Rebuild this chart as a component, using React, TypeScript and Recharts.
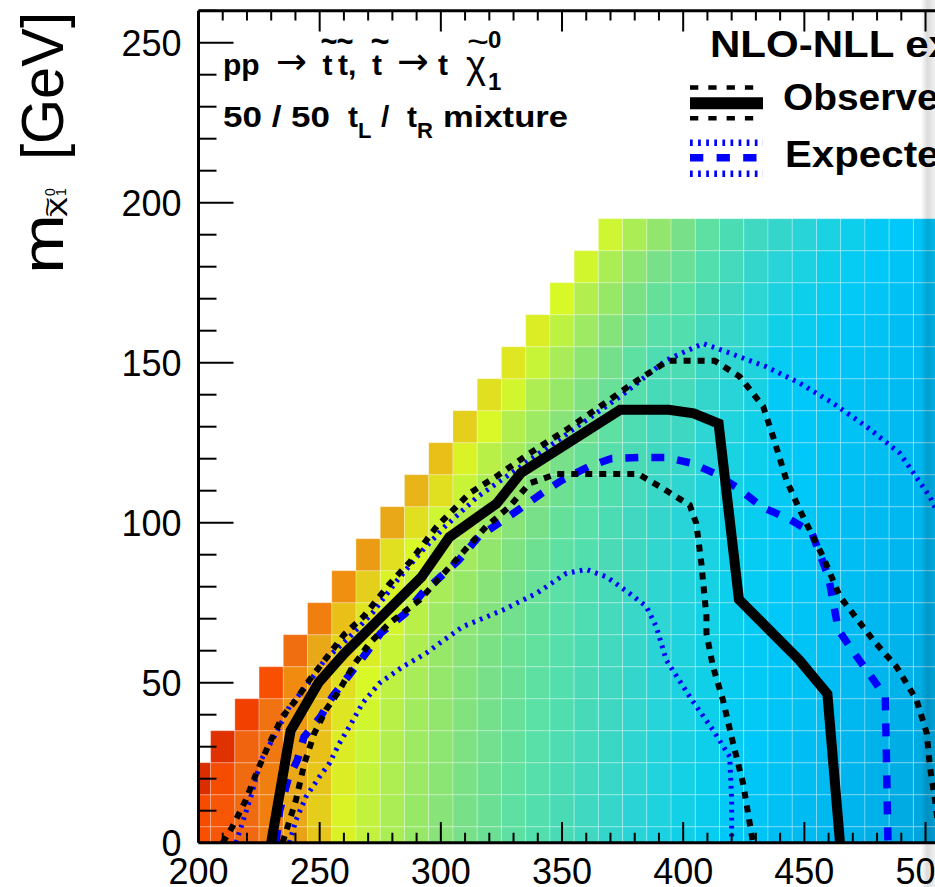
import React from 'react';
import { ComposedChart, Line, ReferenceArea, XAxis, YAxis } from 'recharts';

const FONT = '"Liberation Sans", Arial, Helvetica, sans-serif';

// axis ticks (GeV)
const xTicks = [200, 210, 220, 230, 240, 250, 260, 270, 280, 290, 300, 310, 320, 330, 340, 350, 360, 370, 380, 390, 400, 410, 420, 430, 440, 450, 460, 470, 480, 490, 500, 510, 520];
const yTicks = [0, 10, 20, 30, 40, 50, 60, 70, 80, 90, 100, 110, 120, 130, 140, 150, 160, 170, 180, 190, 200, 210, 220, 230, 240, 250, 260];

// heat map: bin centres and colour level per bin (column by column, bottom row first)
const cellX = [200, 210, 220, 230, 240, 250, 260, 270, 280, 290, 300, 310, 320, 330, 340, 350, 360, 370, 380, 390, 400, 410, 420, 430, 440, 450, 460, 470, 480, 490, 500, 510];
const cellY = [0, 10, 20, 30, 40, 50, 60, 70, 80, 90, 100, 110, 120, 130, 140, 150, 160, 170, 180, 190];
const cellLevels = [
  [2, 1.8, 0.3],
  [2.3, 2.3, 1.8, 0.5],
  [3.2, 3.3, 3.3, 3, 1.2],
  [4.2, 4.3, 4.3, 4, 3.7, 2],
  [5.8, 6, 6, 5.7, 5.3, 4.8, 3.5],
  [7.2, 7.4, 7.2, 7, 6.8, 6.5, 6, 4.3],
  [8.7, 8.8, 8.6, 8.5, 8.2, 8, 7.6, 7, 5],
  [9.7, 9.7, 9.6, 9.4, 9.2, 9, 8.6, 8.2, 7.5, 5.5],
  [10.4, 10.4, 10.3, 10.2, 10, 9.8, 9.5, 9.2, 8.8, 8, 6],
  [11, 11, 10.9, 10.8, 10.7, 10.5, 10.3, 10, 9.6, 9, 8, 6.5],
  [11.5, 11.5, 11.4, 11.3, 11.2, 11.1, 11, 10.8, 10.5, 10, 9.3, 8, 7],
  [12, 12, 11.9, 11.8, 11.7, 11.6, 11.5, 11.3, 11, 10.7, 10.2, 9.5, 8.8, 7.5],
  [12.4, 12.4, 12.3, 12.2, 12.1, 12, 11.9, 11.7, 11.5, 11.2, 10.8, 10.4, 10, 9, 8],
  [12.8, 12.8, 12.7, 12.6, 12.5, 12.4, 12.3, 12.2, 12, 11.8, 11.5, 11.1, 10.6, 10.2, 9.2, 8.3],
  [13.2, 13.2, 13.1, 13, 12.9, 12.8, 12.7, 12.6, 12.5, 12.3, 12, 11.7, 11.3, 10.8, 10.3, 9.5, 8.6],
  [13.6, 13.6, 13.5, 13.4, 13.3, 13.2, 13.1, 13, 12.9, 12.8, 12.6, 12.3, 12, 11.5, 11, 10.5, 9.8, 9],
  [14, 14, 13.9, 13.8, 13.7, 13.6, 13.5, 13.4, 13.3, 13.2, 13, 12.8, 12.5, 12.2, 11.8, 11.3, 10.8, 10.2, 9.2],
  [14.5, 14.4, 14.3, 14.2, 14.1, 14, 13.9, 13.8, 13.7, 13.6, 13.5, 13.3, 13.1, 12.8, 12.5, 12.1, 11.6, 11, 10.4, 9.3],
  [15, 14.9, 14.8, 14.7, 14.6, 14.5, 14.4, 14.3, 14.2, 14.1, 14, 13.8, 13.6, 13.4, 13.1, 12.8, 12.4, 11.9, 11.3, 10.4],
  [15.5, 15.4, 15.3, 15.2, 15.1, 15, 14.9, 14.8, 14.7, 14.6, 14.5, 14.3, 14.1, 13.9, 13.7, 13.4, 13, 12.6, 12, 11.2],
  [16, 15.9, 15.8, 15.7, 15.6, 15.5, 15.4, 15.3, 15.2, 15.1, 15, 14.7, 14.4, 14.1, 13.8, 13.5, 13.2, 12.9, 12.5, 12],
  [16.5, 16.4, 16.3, 16.2, 16.1, 16, 15.9, 15.8, 15.7, 15.6, 15.5, 15.3, 15.1, 14.8, 14.5, 14.2, 13.9, 13.6, 13.2, 12.8],
  [17, 16.9, 16.8, 16.7, 16.6, 16.5, 16.4, 16.3, 16.2, 16.1, 16, 15.8, 15.6, 15.3, 15, 14.7, 14.4, 14.1, 13.8, 13.5],
  [17.3, 17.2, 17.1, 17, 16.9, 16.8, 16.8, 16.7, 16.6, 16.6, 16.5, 16.4, 16.2, 16, 15.7, 15.4, 15.1, 14.8, 14.5, 14],
  [17.6, 17.5, 17.4, 17.3, 17.2, 17.1, 17.1, 17, 17, 16.9, 16.9, 16.8, 16.8, 16.8, 16.9, 16.6, 16, 15.5, 15, 14.5],
  [17.8, 17.8, 17.7, 17.6, 17.5, 17.4, 17.3, 17.3, 17.2, 17.2, 17.1, 17, 17, 17, 17, 16.8, 16.5, 16.1, 15.6, 15],
  [18, 18, 17.9, 17.8, 17.7, 17.6, 17.5, 17.5, 17.4, 17.4, 17.3, 17.3, 17.2, 17.2, 17.2, 17, 16.8, 16.5, 16.1, 15.6],
  [18.3, 18.2, 18.2, 18.1, 18, 17.9, 17.8, 17.8, 17.7, 17.6, 17.6, 17.5, 17.5, 17.4, 17.4, 17.3, 17.1, 16.9, 16.6, 16.2],
  [18.6, 18.5, 18.5, 18.4, 18.3, 18.2, 18.1, 18, 18, 17.9, 17.8, 17.8, 17.7, 17.7, 17.6, 17.5, 17.4, 17.2, 17, 16.8],
  [18.9, 18.8, 18.7, 18.6, 18.5, 18.4, 18.3, 18.2, 18.2, 18.1, 18, 18, 17.9, 17.9, 17.8, 17.7, 17.6, 17.5, 17.3, 17],
  [19.2, 19.1, 19, 18.9, 18.8, 18.7, 18.6, 18.5, 18.4, 18.3, 18.2, 18.2, 18.1, 18, 18, 17.9, 17.8, 17.7, 17.5, 17.3],
  [19.4, 19.3, 19.2, 19.1, 19, 18.9, 18.8, 18.7, 18.6, 18.5, 18.4, 18.4, 18.3, 18.2, 18.2, 18.1, 18, 17.9, 17.7, 17.5],
];

// exclusion contours (m_stop, m_LSP)
const observed = [
  { x: 230, y: 0 }, { x: 238, y: 35 }, { x: 249.5, y: 50 }, { x: 260, y: 59 }, { x: 276, y: 71 },
  { x: 292, y: 83 }, { x: 303.5, y: 95.5 }, { x: 323, y: 106 }, { x: 333, y: 115.5 }, { x: 374, y: 135.3 },
  { x: 394, y: 135.3 }, { x: 404.3, y: 134.2 }, { x: 414.6, y: 131 }, { x: 423, y: 76 }, { x: 448, y: 57 },
  { x: 459.5, y: 46.5 }, { x: 464.7, y: 0 },
];
const observedUp = [
  { x: 210, y: 0 }, { x: 214, y: 5 }, { x: 219.5, y: 13.3 }, { x: 224.4, y: 22.7 }, { x: 229.2, y: 31 },
  { x: 234.7, y: 39.4 }, { x: 240.2, y: 44.6 }, { x: 245.7, y: 50.8 }, { x: 253, y: 58 }, { x: 260, y: 65 },
  { x: 268, y: 70.6 }, { x: 279, y: 81 }, { x: 287.3, y: 87.8 }, { x: 298.3, y: 98.8 }, { x: 311.8, y: 109.2 },
  { x: 322.8, y: 114.4 }, { x: 336.6, y: 121.7 }, { x: 351.7, y: 129 }, { x: 365.5, y: 136.2 }, { x: 379.3, y: 143.6 },
  { x: 393.7, y: 150.6 }, { x: 413, y: 150.6 }, { x: 423.4, y: 145.6 }, { x: 433, y: 136.3 }, { x: 437.1, y: 126.9 },
  { x: 442.6, y: 113.3 }, { x: 448.1, y: 104 }, { x: 453.6, y: 95.6 }, { x: 457.7, y: 89.4 }, { x: 464.6, y: 77 },
  { x: 478.4, y: 63.3 }, { x: 488, y: 55 }, { x: 496.3, y: 44.6 }, { x: 500.5, y: 34.2 }, { x: 501.8, y: 23.8 },
  { x: 504, y: 13 }, { x: 506, y: 0 },
];
const observedDown = [
  { x: 234.7, y: 0 }, { x: 240.2, y: 13.3 }, { x: 243.7, y: 24.8 }, { x: 247.8, y: 34.2 }, { x: 252.6, y: 41.5 },
  { x: 257.4, y: 46.7 }, { x: 263.6, y: 55 }, { x: 270.5, y: 62.3 }, { x: 278.8, y: 68.6 }, { x: 291.2, y: 75.8 },
  { x: 305, y: 87.3 }, { x: 318.7, y: 98.8 }, { x: 328.3, y: 105 }, { x: 336.6, y: 112.3 }, { x: 347.6, y: 115.2 },
  { x: 381.5, y: 115.2 }, { x: 390.3, y: 111.3 }, { x: 402.7, y: 105.5 }, { x: 405.4, y: 99.8 }, { x: 407.5, y: 87.3 },
  { x: 409.6, y: 70.6 }, { x: 409.6, y: 65.4 }, { x: 412.3, y: 55 }, { x: 416.4, y: 44.6 }, { x: 420.6, y: 31 },
  { x: 424.7, y: 18.6 }, { x: 428.8, y: 0 },
];
const expected = [
  { x: 232, y: 0 }, { x: 233.5, y: 10 }, { x: 237, y: 20 }, { x: 240.8, y: 25.8 }, { x: 243.5, y: 33 },
  { x: 250.4, y: 39.4 }, { x: 255.2, y: 45.6 }, { x: 262.8, y: 53 }, { x: 269.6, y: 59.7 }, { x: 275.1, y: 65.4 },
  { x: 285.4, y: 71.7 }, { x: 292.3, y: 77.9 }, { x: 307.4, y: 88.3 }, { x: 315.6, y: 95.6 }, { x: 332, y: 104 },
  { x: 341.7, y: 109.2 }, { x: 350, y: 113.3 }, { x: 360.9, y: 117.5 }, { x: 370.5, y: 120.1 }, { x: 381.5, y: 120.4 },
  { x: 393.2, y: 120.4 }, { x: 403.5, y: 118.6 }, { x: 413.1, y: 115.4 }, { x: 422.7, y: 110.7 }, { x: 432.3, y: 105 },
  { x: 444, y: 101 }, { x: 453, y: 97 }, { x: 460, y: 83 }, { x: 464, y: 66.5 }, { x: 470.8, y: 59 },
  { x: 477.6, y: 51.9 }, { x: 483.4, y: 45.6 }, { x: 484.5, y: 0 },
];
const expectedUp = [
  { x: 215.5, y: 0 }, { x: 221.6, y: 14.4 }, { x: 225.8, y: 25.8 }, { x: 232, y: 34.2 }, { x: 237.5, y: 42.5 },
  { x: 244.4, y: 48.8 }, { x: 252, y: 57 }, { x: 262, y: 64 }, { x: 272, y: 72 }, { x: 282, y: 82 },
  { x: 292, y: 91 }, { x: 302, y: 99 }, { x: 315, y: 108 }, { x: 330, y: 116 }, { x: 345, y: 124 },
  { x: 360, y: 132 }, { x: 375, y: 140 }, { x: 393, y: 150.8 }, { x: 408.2, y: 156 }, { x: 417.8, y: 153.4 },
  { x: 434.4, y: 148.7 }, { x: 448.1, y: 143.6 }, { x: 461.9, y: 137.3 }, { x: 475.7, y: 130 }, { x: 489.4, y: 121.7 },
  { x: 501.8, y: 108.1 }, { x: 510, y: 95 },
];
const expectedDown = [
  { x: 237.5, y: 0 }, { x: 240.2, y: 7 }, { x: 244.4, y: 14.4 }, { x: 249.9, y: 20.6 }, { x: 254, y: 24.8 },
  { x: 258.1, y: 31 }, { x: 262.2, y: 36.2 }, { x: 267.7, y: 43.6 }, { x: 274.6, y: 49.8 }, { x: 284.3, y: 55 },
  { x: 293.9, y: 59.2 }, { x: 299.4, y: 62.3 }, { x: 309, y: 67.5 }, { x: 325.6, y: 72.7 }, { x: 339.4, y: 77.9 },
  { x: 351.8, y: 84.2 }, { x: 360, y: 85.4 }, { x: 368.3, y: 83.1 }, { x: 377.9, y: 77.9 }, { x: 384.8, y: 73.8 },
  { x: 388.9, y: 67.5 }, { x: 393, y: 57.1 }, { x: 402.7, y: 45.6 }, { x: 412.3, y: 35.2 }, { x: 419.2, y: 26.9 },
  { x: 420, y: 13.3 }, { x: 420, y: 0 },
];

const palette = [
  '#d02800', '#f03c00', '#f85000', '#f06410', '#f07810', '#f09010', '#e8a818', '#e8c018',
  '#e0e020', '#d8f828', '#b8f048', '#98e868', '#78e088', '#58e0a8', '#40d8c0', '#28d4d8',
  '#10d0e8', '#00c8f8', '#00b8f0', '#00a8e0', '#0098d8',
];

function hexRgb(h: string) {
  return [1, 3, 5].map((i) => parseInt(h.slice(i, i + 2), 16));
}

function levelColor(v: number) {
  const i = Math.max(0, Math.min(palette.length - 2, Math.floor(v)));
  const t = Math.max(0, Math.min(1, v - i));
  const a = hexRgb(palette[i]);
  const b = hexRgb(palette[i + 1]);
  const c = a.map((ch, k) => Math.round(ch + (b[k] - ch) * t));
  return `rgb(${c[0]},${c[1]},${c[2]})`;
}

const cells = cellLevels.flatMap((col, i) =>
  col.map((lv, j) => ({ x: cellX[i], y: cellY[j], lv }))
);

const BottomTick = (props: any) => {
  const { x, y, payload } = props;
  const v = payload.value;
  if (v % 50 !== 0) return <g />;
  return (
    <text x={x} y={y + 41} textAnchor="middle" fontSize={36} fontFamily={FONT} fill="#000">
      {v}
    </text>
  );
};

const LeftTick = (props: any) => {
  const { x, y, payload } = props;
  const v = payload.value;
  const major = v % 50 === 0;
  return (
    <g>
      <line x1={x} x2={x + (major ? 35 : 18)} y1={y} y2={y} stroke="#000" strokeWidth={2} />
      {major && (
        <text x={x - 17} y={y + 13} textAnchor="end" fontSize={36} fontFamily={FONT} fill="#000">
          {v}
        </text>
      )}
    </g>
  );
};

const lineBase = { type: 'linear' as const, dataKey: 'y', dot: false, isAnimationActive: false };
const chartSize = { width: 1000, height: 887, margin: { top: 9.7, right: 26, left: 0, bottom: 0 } };
const frame = { stroke: '#000', strokeWidth: 3 };

// the same axes twice: hidden under the heat map, drawn on top in the overlay chart
function axes(show: boolean) {
  const common = { tickLine: false, tickSize: 0, tickMargin: 0, interval: 0 as const, allowDataOverflow: true };
  return [
    <XAxis key="xb" {...common} type="number" dataKey="x" domain={[200, 520]} ticks={xTicks} height={44.3}
      axisLine={show ? frame : false} tick={show ? <BottomTick /> : false} />,
    <XAxis key="xt" {...common} xAxisId="top" orientation="top" type="number" dataKey="x" domain={[200, 520]}
      ticks={xTicks} height={1} axisLine={show ? frame : false} tick={false} />,
    <YAxis key="yl" {...common} type="number" domain={[0, 260]} ticks={yTicks} width={198.5}
      axisLine={show ? frame : false} tick={show ? <LeftTick /> : false} />,
  ];
}

// inward tick marks on the bottom and top frame (length in GeV of m_LSP), drawn as short series
const xTickMarks = xTicks.flatMap((v) => {
  const len = v % 50 === 0 ? 6.5 : 3.1;
  return [
    <Line key={`b${v}`} {...lineBase} data={[{ x: v, y: 0 }, { x: v, y: len }]} stroke="#000" strokeWidth={2} />,
    <Line key={`t${v}`} {...lineBase} data={[{ x: v, y: 260 }, { x: v, y: 260 - len }]} stroke="#000" strokeWidth={2} />,
  ];
});

export default function App() {
  return (
    <div style={{ position: 'fixed', left: 0, top: 0, width: 935, height: 887, overflow: 'hidden', background: '#fff' }}>
      <div style={{ position: 'absolute', left: 0, top: 0, zIndex: 1 }}>
        <ComposedChart {...chartSize}>
          {axes(false)}
          {cells.map((c) => (
            <ReferenceArea
              key={`${c.x}-${c.y}`}
              x1={Math.max(200, c.x - 5)}
              x2={c.x + 5}
              y1={Math.max(0, c.y - 5)}
              y2={c.y + 5}
              fill={levelColor(c.lv)}
              fillOpacity={1}
              stroke="rgba(255,255,255,0.28)"
              strokeWidth={1}
            />
          ))}
          <Line {...lineBase} data={expectedDown} stroke="#0000ff" strokeWidth={5} strokeDasharray="2.7 5.3" />
          <Line {...lineBase} data={expectedUp} stroke="#0000ff" strokeWidth={5} strokeDasharray="2.7 5.3" />
          <Line {...lineBase} data={expected} stroke="#0000ff" strokeWidth={7.5} strokeDasharray="13 13" />
          <Line {...lineBase} data={observedDown} stroke="#000" strokeWidth={6} strokeDasharray="7 7" />
          <Line {...lineBase} data={observedUp} stroke="#000" strokeWidth={6} strokeDasharray="7 7" />
          <Line {...lineBase} data={observed} stroke="#000" strokeWidth={10} />
        </ComposedChart>
      </div>

      <div style={{ position: 'absolute', left: 0, top: 0, zIndex: 2, pointerEvents: 'none' }}>
        <ComposedChart {...chartSize}>
          {axes(true)}
          {xTickMarks}
        </ComposedChart>
      </div>

      <svg width={935} height={887} style={{ position: 'absolute', left: 0, top: 0, zIndex: 3, pointerEvents: 'none' }} fontFamily={FONT}>
        {/* y axis title */}
        <g transform="translate(63,272) rotate(-90)">
          <text x={-2} y={0} fontSize={60} textLength={60} lengthAdjust="spacingAndGlyphs">m</text>
          <text x={55} y={-1.5} fontSize={22} textLength={20} lengthAdjust="spacingAndGlyphs">χ</text>
          <text x={55} y={-7} fontSize={24} textLength={20} lengthAdjust="spacingAndGlyphs">~</text>
          <text fontSize={14}>
            <tspan x={76} y={-8}>0</tspan>
            <tspan x={76} y={3}>1</tspan>
          </text>
          <text x={112} y={0} fontSize={60} textLength={148} lengthAdjust="spacingAndGlyphs">[GeV]</text>
        </g>

        {/* process label */}
        <g fontWeight="bold" fontSize={30}>
          <text x={223} y={75}>pp</text>
          <text x={276} y={74} fontWeight="normal" fontSize={37} fontFamily="DejaVu Sans">→</text>
          <text x={322.5} y={75}>t</text>
          <text x={338} y={75}>t,</text>
          <text x={372} y={75}>t</text>
          <text x={397} y={74} fontWeight="normal" fontSize={38} fontFamily="DejaVu Sans">→</text>
          <text x={438} y={75}>t</text>
          <text x={320.5} y={52} fontSize={34} textLength={17} lengthAdjust="spacingAndGlyphs">~</text>
          <text x={336.5} y={52} fontSize={34} textLength={17} lengthAdjust="spacingAndGlyphs">~</text>
          <text x={370.5} y={52} fontSize={34} textLength={19} lengthAdjust="spacingAndGlyphs">~</text>
          <text x={466} y={78} fontWeight="normal" fontSize={38}>χ</text>
          <text x={467} y={54} fontWeight="normal" fontSize={36} textLength={22} lengthAdjust="spacingAndGlyphs">~</text>
          <text fontSize={24}>
            <tspan x={488} y={48}>0</tspan>
            <tspan x={488} y={90}>1</tspan>
          </text>

          <text x={223} y={126.7} textLength={107} lengthAdjust="spacingAndGlyphs">50 / 50</text>
          <text>
            <tspan x={348} y={126.7}>t</tspan>
            <tspan x={358} y={138} fontSize={22}>L</tspan>
          </text>
          <text x={381} y={126.7}>/</text>
          <text>
            <tspan x={407} y={126.7}>t</tspan>
            <tspan x={417} y={138} fontSize={22}>R</tspan>
          </text>
          <text x={443} y={126.7} textLength={125} lengthAdjust="spacingAndGlyphs">mixture</text>
        </g>

        {/* legend */}
        <g fontWeight="bold" fontSize={36}>
          <text x={710} y={56.7} textLength={389} lengthAdjust="spacingAndGlyphs">NLO-NLL exclusion</text>
          <text x={783} y={110} textLength={270} lengthAdjust="spacingAndGlyphs">Observed limit</text>
          <text x={785} y={166.7} textLength={273} lengthAdjust="spacingAndGlyphs">Expected limit</text>
        </g>
        <line x1={690} x2={763} y1={87.5} y2={87.5} stroke="#000" strokeWidth={4.5} strokeDasharray="8.3 10" />
        <line x1={690} x2={763} y1={103.3} y2={103.3} stroke="#000" strokeWidth={12} />
        <line x1={690} x2={763} y1={118.3} y2={118.3} stroke="#000" strokeWidth={4.5} strokeDasharray="8.3 10" />
        <line x1={690} x2={763} y1={142.7} y2={142.7} stroke="#0000ff" strokeWidth={6.5} strokeDasharray="2.7 5.4" />
        <line x1={690} x2={763} y1={157.8} y2={157.8} stroke="#0000ff" strokeWidth={7.5} strokeDasharray="13.3 13.3" />
        <line x1={690} x2={763} y1={173.7} y2={173.7} stroke="#0000ff" strokeWidth={6.5} strokeDasharray="2.7 5.4" />
      </svg>

      <div
        style={{
          position: 'absolute',
          left: 921,
          top: 0,
          width: 14,
          height: 887,
          zIndex: 4,
          pointerEvents: 'none',
          background: 'linear-gradient(to right, rgba(0,0,0,0) 0%, rgba(0,0,0,0.14) 45%, rgba(0,0,0,0.06) 100%)',
        }}
      />
    </div>
  );
}
